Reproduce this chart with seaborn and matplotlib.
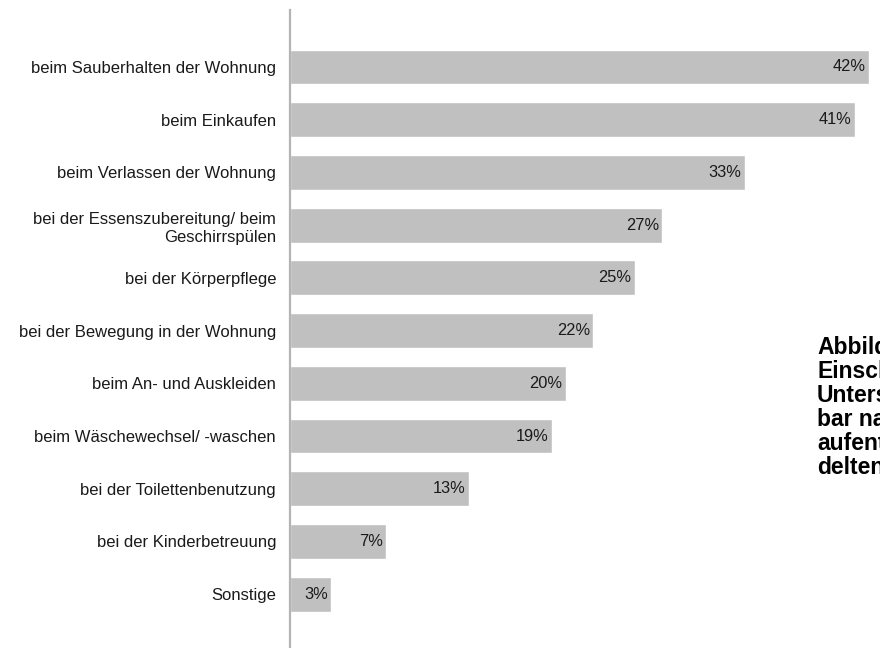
import matplotlib
matplotlib.use("Agg")
import matplotlib.pyplot as plt
import seaborn as sns
import pandas as pd

categories = [
    "beim Sauberhalten der Wohnung",
    "beim Einkaufen",
    "beim Verlassen der Wohnung",
    "bei der Essenszubereitung/ beim\nGeschirrspülen",
    "bei der Körperpflege",
    "bei der Bewegung in der Wohnung",
    "beim An- und Auskleiden",
    "beim Wäschewechsel/ -waschen",
    "bei der Toilettenbenutzung",
    "bei der Kinderbetreuung",
    "Sonstige",
]
values = [42, 41, 33, 27, 25, 22, 20, 19, 13, 7, 3]

caption_lines = [
    "Abbildung",
    "Einschätzung",
    "Unterstützung",
    "bar nach",
    "aufenthalt",
    "delten",
]

df = pd.DataFrame({"Bereich": categories, "Anteil": values})

sns.set_theme(style="white")
plt.rcParams["font.family"] = ["Liberation Sans", "DejaVu Sans"]

fig = plt.figure(figsize=(8.8, 6.48), dpi=100)
ax = fig.add_axes([290 / 880, 0.0, 590 / 880, 1 - 10 / 648])

sns.barplot(data=df, x="Anteil", y="Bereich", orient="h", color="#c0c0c0",
            saturation=1, width=0.66, ax=ax)

ax.set_xlim(0, 42.8)
ax.set_ylim(len(values) - 1 + 1.02, -1.08)
ax.set_xlabel("")
ax.set_ylabel("")
ax.set_xticks([])
for side in ("top", "right", "bottom"):
    ax.spines[side].set_visible(False)
ax.spines["left"].set_color("#b4b4b4")
ax.spines["left"].set_linewidth(1.6)

ax.tick_params(axis="y", length=0, pad=10, labelsize=12, labelcolor="#1a1a1a")
for lbl in ax.get_yticklabels():
    lbl.set_multialignment("right")
    lbl.set_linespacing(1.3)

for i, v in enumerate(values):
    ax.text(v - 0.25, i, f"{v}%", ha="right", va="center",
            fontsize=11.8, color="#1a1a1a")

for k, line in enumerate(caption_lines):
    fig.text(817 / 880, 1 - (347 + 24.2 * k) / 648, line, ha="left", va="center",
             fontsize=16.5, fontweight="bold", color="#000000")

fig.savefig("out.png", dpi=100)
